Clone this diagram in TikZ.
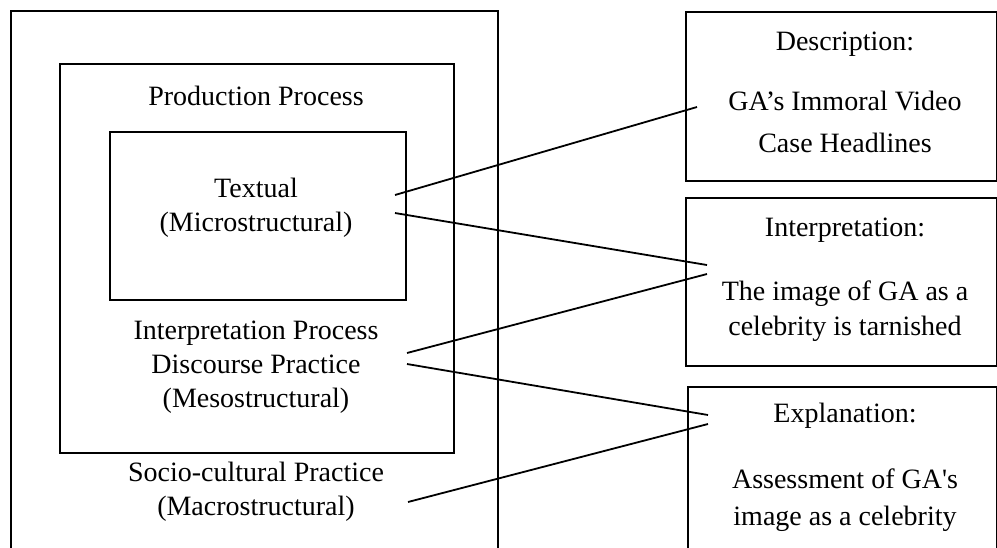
\documentclass[tikz,border=0pt]{standalone}
\usepackage{fontspec}
\setmainfont{Liberation Serif}
\begin{document}
\begin{tikzpicture}[x=1pt,y=-1pt,
  box/.style={draw,line width=1.8pt,inner sep=0pt,anchor=north west},
  lbl/.style={align=center,inner sep=0pt,font=\fontsize{28}{34}\selectfont},
  conn/.style={line width=1.8pt}]
\clip (0,0) rectangle (997,547);
\fill[white] (0,0) rectangle (997,547);
% nested boxes
\node[box,minimum width=487pt,minimum height=600pt] (outer) at (10,10) {};
\node[box,minimum width=394pt,minimum height=389pt] (middle) at (59,63) {};
\node[box,minimum width=296pt,minimum height=168pt] (inner) at (109,131) {};
% right boxes
\node[box,minimum width=311pt,minimum height=169pt] (descbox) at (685,11) {};
\node[box,minimum width=311pt,minimum height=168pt] (interbox) at (685,197) {};
\node[box,minimum width=309pt,minimum height=200pt] (explbox) at (687,386) {};
% left texts
\node[lbl] (prod) at (256,96) {Production Process};
\node[lbl] (textual) at (256,208) {Textual\\(Microstructural)};
\node[lbl] (meso) at (256,367) {Interpretation Process\\Discourse Practice\\(Mesostructural)};
\node[lbl] (macro) at (256,492) {Socio-cultural Practice\\(Macrostructural)};
% right texts
\node[lbl] (desch) at (845,44) {Description:};
\node[lbl,font=\fontsize{28}{42}\selectfont] (descb) at (845,122) {GA’s Immoral Video\\Case Headlines};
\node[lbl] (interh) at (845,230) {Interpretation:};
\node[lbl,font=\fontsize{28}{35}\selectfont] (interb) at (845,311) {The image of GA as a\\celebrity is tarnished};
\node[lbl] (explh) at (845,416) {Explanation:};
\node[lbl,font=\fontsize{28}{37}\selectfont\addfontfeatures{Ligatures=TeXOff}] (explb) at (845,500) {Assessment of GA's\\image as a celebrity};
% connector end points
\coordinate (t1) at (395,195);
\coordinate (t2) at (395,213);
\coordinate (m1) at (407,353);
\coordinate (m2) at (407,364);
\coordinate (s1) at (408,502);
\coordinate (d1) at (697,107);
\coordinate (i1) at (707,265);
\coordinate (i2) at (707,274);
\coordinate (e1) at (708,415);
\coordinate (e2) at (708,424);
\draw[conn] (t1) -- (d1);
\draw[conn] (t2) -- (i1);
\draw[conn] (m1) -- (i2);
\draw[conn] (m2) -- (e1);
\draw[conn] (s1) -- (e2);
\end{tikzpicture}
\end{document}
